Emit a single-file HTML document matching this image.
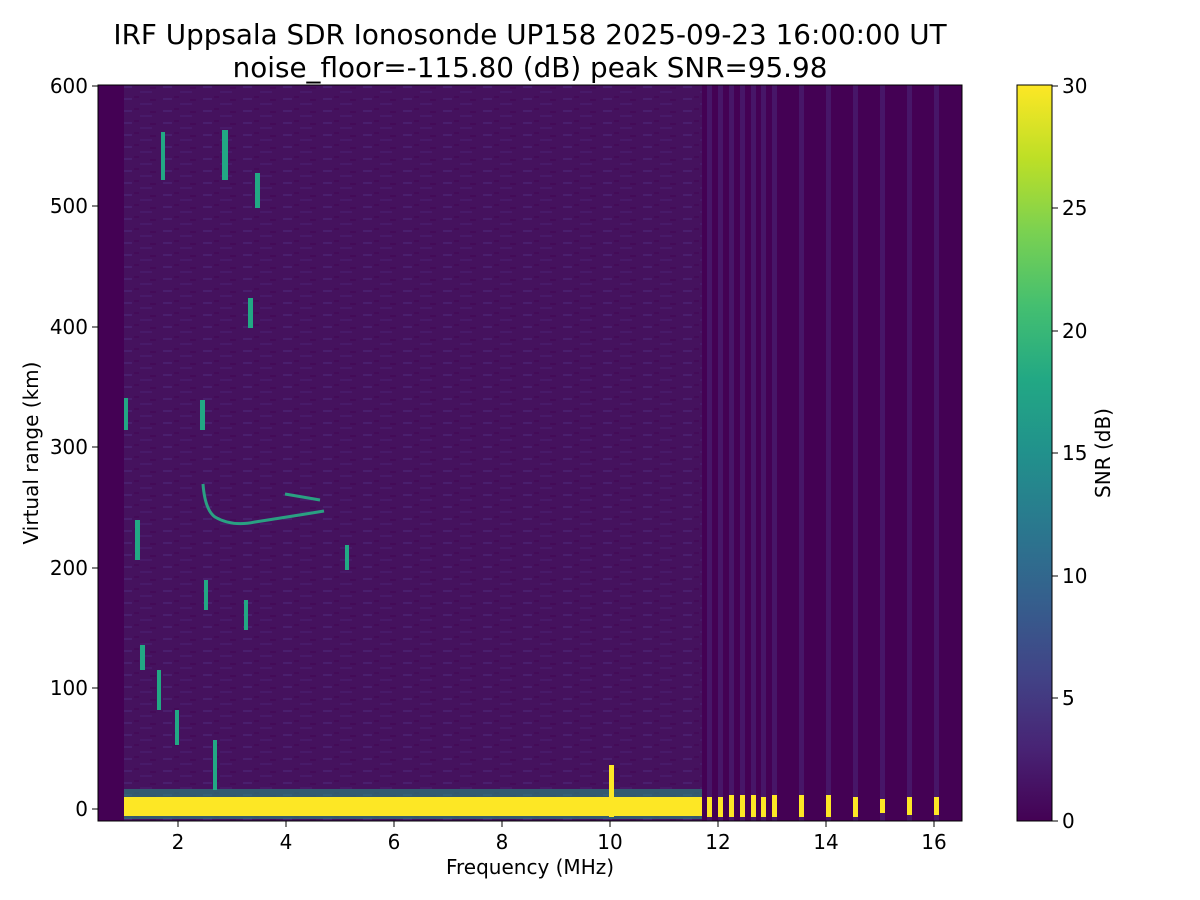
<!DOCTYPE html>
<html><head><meta charset="utf-8"><style>
body{margin:0;background:#fff;}
svg{display:block;font-family:"DejaVu Sans","Liberation Sans",sans-serif;}
</style></head><body>
<svg width="1200" height="900" viewBox="0 0 1200 900" xmlns="http://www.w3.org/2000/svg">
<defs>
<linearGradient id="vir" x1="0" y1="1" x2="0" y2="0">
<stop offset="0" stop-color="#440154"/><stop offset="0.1" stop-color="#482475"/>
<stop offset="0.2" stop-color="#414487"/><stop offset="0.3" stop-color="#355f8d"/>
<stop offset="0.4" stop-color="#2a788e"/><stop offset="0.5" stop-color="#21918c"/>
<stop offset="0.6" stop-color="#22a884"/><stop offset="0.7" stop-color="#44bf70"/>
<stop offset="0.8" stop-color="#7ad151"/><stop offset="0.9" stop-color="#bddf26"/>
<stop offset="1" stop-color="#fde725"/></linearGradient>
<pattern id="nz" width="40" height="12" patternUnits="userSpaceOnUse">
<rect width="40" height="12" fill="#45125e"/>
<rect x="3" y="2" width="9" height="2" fill="#4a1f6e"/>
<rect x="20" y="7" width="12" height="2" fill="#481a69"/>
<rect x="14" y="0" width="5" height="2" fill="#440b58"/>
<rect x="30" y="3" width="6" height="2" fill="#440b58"/>
</pattern>
</defs>
<text x="530" y="44" font-size="27.8" text-anchor="middle">IRF Uppsala SDR Ionosonde UP158 2025-09-23 16:00:00  UT</text>
<text x="530" y="77" font-size="27.8" text-anchor="middle">noise_floor=-115.80 (dB) peak SNR=95.98</text>
<rect x="98" y="85" width="864" height="736" fill="#440154"/>
<rect x="124" y="85" width="578" height="736" fill="url(#nz)"/>
<g fill="#471668">
<rect x="707" y="85" width="5" height="736"/><rect x="718" y="85" width="5" height="736"/>
<rect x="729" y="85" width="5" height="736"/><rect x="740" y="85" width="5" height="736"/>
<rect x="751" y="85" width="5" height="736"/><rect x="761" y="85" width="5" height="736"/>
<rect x="772" y="85" width="5" height="736"/><rect x="799" y="85" width="5" height="736"/>
<rect x="826" y="85" width="5" height="736"/><rect x="853" y="85" width="5" height="736"/>
<rect x="880" y="85" width="5" height="736"/><rect x="907" y="85" width="5" height="736"/>
<rect x="934" y="85" width="5" height="736"/>
</g>
<g fill="#fde725">
<rect x="707" y="797" width="5" height="20"/><rect x="718" y="797" width="5" height="20"/>
<rect x="729" y="795" width="5" height="22"/><rect x="740" y="795" width="5" height="22"/>
<rect x="751" y="795" width="5" height="22"/><rect x="761" y="797" width="5" height="20"/>
<rect x="772" y="795" width="5" height="22"/><rect x="799" y="795" width="5" height="22"/>
<rect x="826" y="795" width="5" height="22"/><rect x="853" y="797" width="5" height="20"/>
<rect x="880" y="799" width="5" height="14"/><rect x="907" y="797" width="5" height="18"/>
<rect x="934" y="797" width="5" height="18"/>
</g>
<rect x="124" y="789" width="578" height="30" fill="#2a8a7e" opacity="0.6"/>
<rect x="124" y="797" width="578" height="19" fill="#fde725"/>
<rect x="609" y="765" width="5" height="52" fill="#fde725"/>
<g fill="none" stroke="#2aa082" stroke-width="3">
<path d="M203 484 Q205 510 215 517 Q232 527 255 522 Q300 515 324 511"/>
<path d="M285 494 L320 500"/>
</g>
<g fill="#22a884">
<rect x="135" y="520" width="5" height="40"/><rect x="161" y="132" width="4" height="48"/>
<rect x="200" y="400" width="5" height="30"/><rect x="248" y="298" width="5" height="30"/>
<rect x="255" y="173" width="5" height="35"/><rect x="222" y="130" width="6" height="50"/>
<rect x="213" y="740" width="4" height="50"/><rect x="175" y="710" width="4" height="35"/>
<rect x="140" y="645" width="5" height="25"/><rect x="204" y="580" width="4" height="30"/>
<rect x="244" y="600" width="4" height="30"/><rect x="345" y="545" width="4" height="25"/>
<rect x="124" y="398" width="4" height="32"/><rect x="157" y="670" width="4" height="40"/>
</g>
<rect x="98" y="85" width="864" height="736" fill="none" stroke="#000"/>
<g font-size="20" text-anchor="middle">
<g stroke="#000"><line x1="178" y1="821" x2="178" y2="827"/><line x1="286" y1="821" x2="286" y2="827"/><line x1="394" y1="821" x2="394" y2="827"/><line x1="502" y1="821" x2="502" y2="827"/><line x1="610" y1="821" x2="610" y2="827"/><line x1="718" y1="821" x2="718" y2="827"/><line x1="826" y1="821" x2="826" y2="827"/><line x1="934" y1="821" x2="934" y2="827"/></g>
<text x="178" y="849">2</text><text x="286" y="849">4</text><text x="394" y="849">6</text><text x="502" y="849">8</text><text x="610" y="849">10</text><text x="718" y="849">12</text><text x="826" y="849">14</text><text x="934" y="849">16</text>
<text x="530" y="874">Frequency (MHz)</text>
</g>
<g font-size="20" text-anchor="end">
<g stroke="#000"><line x1="92" y1="809" x2="98" y2="809"/><line x1="92" y1="688" x2="98" y2="688"/><line x1="92" y1="568" x2="98" y2="568"/><line x1="92" y1="447" x2="98" y2="447"/><line x1="92" y1="327" x2="98" y2="327"/><line x1="92" y1="206" x2="98" y2="206"/><line x1="92" y1="86" x2="98" y2="86"/></g>
<text x="88" y="816">0</text><text x="88" y="695">100</text><text x="88" y="575">200</text><text x="88" y="454">300</text><text x="88" y="334">400</text><text x="88" y="213">500</text><text x="88" y="93">600</text>
</g>
<text transform="translate(38,453) rotate(-90)" font-size="20" text-anchor="middle">Virtual range (km)</text>
<rect x="1017" y="85" width="35" height="736" fill="url(#vir)" stroke="#000"/>
<g font-size="20">
<g stroke="#000"><line x1="1052" y1="821" x2="1058" y2="821"/><line x1="1052" y1="698" x2="1058" y2="698"/><line x1="1052" y1="576" x2="1058" y2="576"/><line x1="1052" y1="453" x2="1058" y2="453"/><line x1="1052" y1="331" x2="1058" y2="331"/><line x1="1052" y1="208" x2="1058" y2="208"/><line x1="1052" y1="86" x2="1058" y2="86"/></g>
<text x="1062" y="828">0</text><text x="1062" y="705">5</text><text x="1062" y="583">10</text><text x="1062" y="460">15</text><text x="1062" y="338">20</text><text x="1062" y="215">25</text><text x="1062" y="93">30</text>
</g>
<text transform="translate(1110,453) rotate(-90)" font-size="20" text-anchor="middle">SNR (dB)</text>
</svg>
</body></html>
